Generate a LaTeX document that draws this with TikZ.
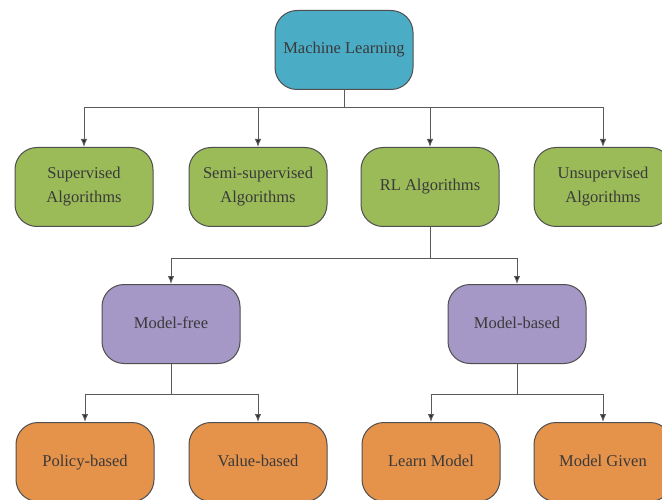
\documentclass[tikz,border=0pt]{standalone}
\usepackage{fontspec}
\setmainfont{Liberation Serif}
\usetikzlibrary{arrows.meta}
\definecolor{mlblue}{HTML}{4BACC6}
\definecolor{mlgreen}{HTML}{9BBB59}
\definecolor{mlpurple}{HTML}{A597C6}
\definecolor{mlorange}{HTML}{E5924B}
\definecolor{mledge}{HTML}{4F4F4F}
\definecolor{mltext}{HTML}{3A3A3A}
\definecolor{mlline}{HTML}{5A5A5A}
\tikzset{
  box/.style={draw=mledge, line width=1pt, rounded corners=22pt,
    minimum width=138pt, minimum height=79pt, align=center,
    text=mltext, font=\fontsize{16.5}{24}\selectfont, inner sep=2pt},
  oneline/.style={text height=11.5pt, text depth=3.5pt},
  bluebox/.style={box, fill=mlblue},
  greenbox/.style={box, fill=mlgreen},
  purplebox/.style={box, fill=mlpurple},
  orangebox/.style={box, fill=mlorange},
  conn/.style={draw=mlline, line width=1pt},
  arr/.style={conn, -{Latex[length=8pt,width=6.5pt,fill=black!85]}}
}
\begin{document}
\begin{tikzpicture}[x=1pt,y=-1pt]
\useasboundingbox (0,0) rectangle (662,500);
\fill[white] (0,0) rectangle (662,500);
% nodes
\node[bluebox, oneline] (ml) at (344,50) {Machine Learning};
\node[greenbox] (sup) at (84,187) {Supervised\\Algorithms};
\node[greenbox] (semi) at (258,187) {Semi-supervised\\Algorithms};
\node[greenbox, oneline] (rl) at (430,187) {RL Algorithms};
\node[greenbox] (uns) at (603,187) {Unsupervised\\Algorithms};
\node[purplebox, oneline] (mf) at (171,324) {Model-free};
\node[purplebox, oneline] (mb) at (517,324) {Model-based};
\node[orangebox, oneline] (pb) at (85,462) {Policy-based};
\node[orangebox, oneline] (vb) at (258,462) {Value-based};
\node[orangebox, oneline] (lm) at (431,462) {Learn Model};
\node[orangebox, oneline] (mg) at (603,462) {Model Given};
% bus coordinates
\coordinate (b1) at (344,108);
\coordinate (b2) at (430,258);
\coordinate (b3) at (171,394);
\coordinate (b4) at (517,394);
% connectors
\draw[conn] (ml.south) -- (b1);
\draw[arr] (b1) -| (sup.north);
\draw[arr] (b1) -| (semi.north);
\draw[arr] (b1) -| (rl.north);
\draw[arr] (b1) -| (uns.north);
\draw[conn] (rl.south) -- (b2);
\draw[arr] (b2) -| (mf.north);
\draw[arr] (b2) -| (mb.north);
\draw[conn] (mf.south) -- (b3);
\draw[arr] (b3) -| (pb.north);
\draw[arr] (b3) -| (vb.north);
\draw[conn] (mb.south) -- (b4);
\draw[arr] (b4) -| (lm.north);
\draw[arr] (b4) -| (mg.north);
\end{tikzpicture}
\end{document}
